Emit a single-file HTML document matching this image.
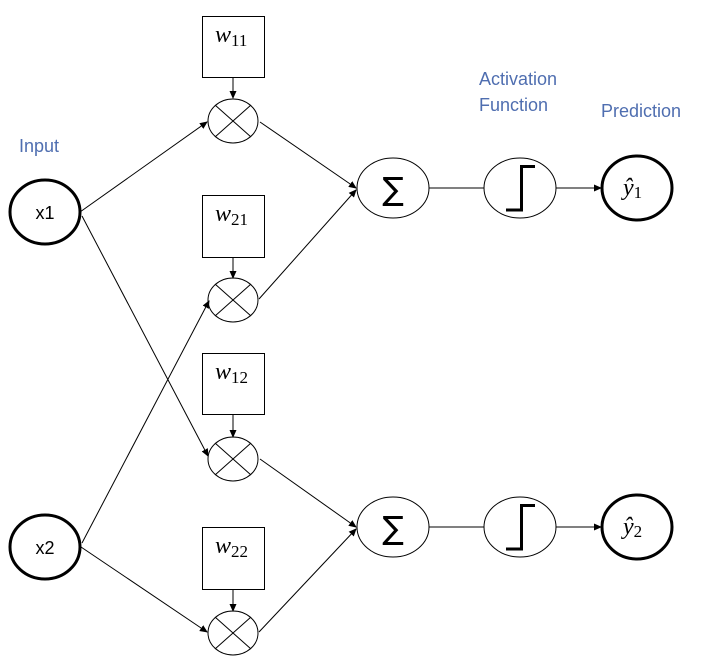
<!DOCTYPE html>
<html><head><style>
html,body{margin:0;padding:0;background:#fff;}
svg{display:block;}
.lbl{font-family:"Liberation Sans",sans-serif;font-size:18px;fill:#4f6eb0;}
.t{font-family:"Liberation Sans",sans-serif;font-size:18px;fill:#000;}
.m{font-family:"Liberation Serif",serif;font-style:italic;font-size:24px;fill:#000;}
.s{font-family:"Liberation Serif",serif;font-style:normal;font-size:17px;fill:#000;}
</style></head><body>
<svg width="702" height="666" viewBox="0 0 702 666" xmlns="http://www.w3.org/2000/svg">
<defs><marker id="a" markerWidth="8" markerHeight="8" refX="7" refY="4" orient="auto" markerUnits="userSpaceOnUse"><path d="M0,0.5 L8,4 L0,7.5 z" fill="#000"/></marker></defs>
<g stroke="#000" stroke-width="1" fill="none">
<line x1="80" y1="212" x2="207" y2="122" marker-end="url(#a)"/>
<line x1="82" y1="216" x2="208" y2="456" marker-end="url(#a)"/>
<line x1="82" y1="543" x2="209" y2="301" marker-end="url(#a)"/>
<line x1="81" y1="547" x2="207" y2="632" marker-end="url(#a)"/>
<line x1="260" y1="122" x2="356" y2="188" marker-end="url(#a)"/>
<line x1="259" y1="299" x2="356" y2="190" marker-end="url(#a)"/>
<line x1="260" y1="459" x2="356" y2="527" marker-end="url(#a)"/>
<line x1="259" y1="632" x2="356" y2="529" marker-end="url(#a)"/>
<line x1="233" y1="77" x2="233" y2="98" marker-end="url(#a)"/>
<line x1="233" y1="257" x2="233" y2="278" marker-end="url(#a)"/>
<line x1="233" y1="415" x2="233" y2="437" marker-end="url(#a)"/>
<line x1="233" y1="589" x2="233" y2="611" marker-end="url(#a)"/>
<rect x="202.5" y="16.5" width="62" height="61"/>
<rect x="202.5" y="195.5" width="62" height="62"/>
<rect x="202.5" y="353.5" width="62" height="61"/>
<rect x="202.5" y="527.5" width="62" height="62"/>
<ellipse cx="233" cy="121" rx="25" ry="22"/><line x1="215" y1="105" x2="251" y2="137"/><line x1="251" y1="105" x2="215" y2="137"/>
<ellipse cx="233" cy="300" rx="25" ry="22"/><line x1="215" y1="284" x2="251" y2="316"/><line x1="251" y1="284" x2="215" y2="316"/>
<ellipse cx="233" cy="459" rx="25" ry="22"/><line x1="215" y1="443" x2="251" y2="475"/><line x1="251" y1="443" x2="215" y2="475"/>
<ellipse cx="233" cy="633" rx="25" ry="22"/><line x1="215" y1="617" x2="251" y2="649"/><line x1="251" y1="617" x2="215" y2="649"/>
<ellipse cx="393" cy="188" rx="36" ry="30"/>
<ellipse cx="393" cy="527" rx="36" ry="30"/>
<line x1="429" y1="188" x2="484" y2="188"/>
<line x1="429" y1="527" x2="484" y2="527"/>
<ellipse cx="520" cy="188" rx="36" ry="30"/>
<ellipse cx="520" cy="527" rx="36" ry="30"/>
<line x1="556" y1="188" x2="601" y2="188" marker-end="url(#a)"/>
<line x1="556" y1="527" x2="601" y2="527" marker-end="url(#a)"/>
<path d="M506,210 H521.5 V166.5 H535" stroke-width="3"/>
<path d="M506,549 H521.5 V505.5 H535" stroke-width="3"/>
<ellipse cx="45" cy="212" rx="35" ry="32" stroke-width="3"/>
<ellipse cx="45" cy="547" rx="35" ry="32" stroke-width="3"/>
<ellipse cx="637" cy="188" rx="35" ry="32" stroke-width="3"/>
<ellipse cx="637" cy="527" rx="35" ry="32" stroke-width="3"/>
</g>
<text class="lbl" x="19" y="152">Input</text>
<text class="lbl" x="479" y="85">Activation</text>
<text class="lbl" x="479" y="111">Function</text>
<text class="lbl" x="601" y="117">Prediction</text>
<text class="t" x="45" y="219" text-anchor="middle">x1</text>
<text class="t" x="45" y="554" text-anchor="middle">x2</text>
<text x="393" y="200" text-anchor="middle" font-family="DejaVu Sans,sans-serif" font-size="32">∑</text>
<text x="393" y="539" text-anchor="middle" font-family="DejaVu Sans,sans-serif" font-size="32">∑</text>
<text class="m" x="215" y="42">w<tspan class="s" dy="4">11</tspan></text>
<text class="m" x="215" y="221">w<tspan class="s" dy="4">21</tspan></text>
<text class="m" x="215" y="379">w<tspan class="s" dy="4">12</tspan></text>
<text class="m" x="215" y="553">w<tspan class="s" dy="4">22</tspan></text>
<text class="m" x="623" y="195" font-size="21">ŷ<tspan class="s" dy="3">1</tspan></text>
<text class="m" x="623" y="534" font-size="21">ŷ<tspan class="s" dy="3">2</tspan></text>
</svg>
</body></html>
